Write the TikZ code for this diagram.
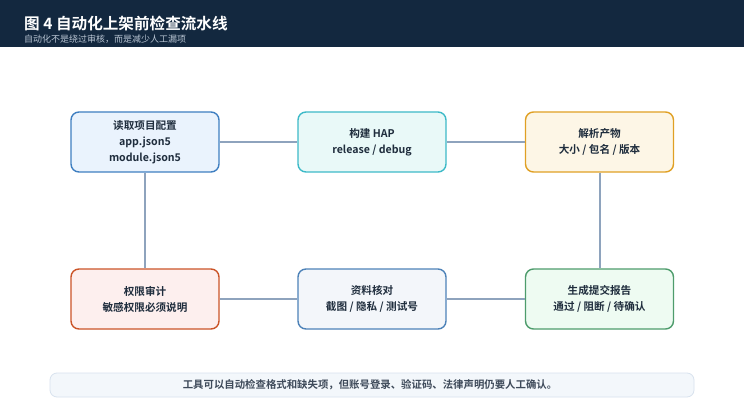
\documentclass[tikz,border=0pt]{standalone}
\usepackage{fontspec}
\setmainfont{Noto Sans CJK SC}
\newfontfamily\cjkb{Noto Sans CJK SC Bold}
\definecolor{hdr}{HTML}{13283F}
\definecolor{sub}{HTML}{B8C4D2}
\definecolor{txt}{HTML}{1F2D3D}
\definecolor{ntxt}{HTML}{3E4A5A}
\definecolor{conn}{HTML}{8EA3BD}
\definecolor{fA}{HTML}{EAF3FD}\definecolor{dA}{HTML}{3F7FC1}
\definecolor{fB}{HTML}{E9F9F8}\definecolor{dB}{HTML}{3DBAC8}
\definecolor{fC}{HTML}{FDF6E6}\definecolor{dC}{HTML}{E0A024}
\definecolor{fD}{HTML}{FDEFEE}\definecolor{dD}{HTML}{CB5428}
\definecolor{fE}{HTML}{F3F6FA}\definecolor{dE}{HTML}{4D82B8}
\definecolor{fF}{HTML}{EEFBF2}\definecolor{dF}{HTML}{4E9C6C}
\definecolor{nf}{HTML}{F3F7FB}\definecolor{nd}{HTML}{D8E2EE}
\tikzset{
  stepbox/.style={rounded corners=8pt, line width=1.4pt, minimum width=148pt, minimum height=60pt,
    align=center, font=\cjkb\fontsize{10.6}{16}\selectfont, text=txt, inner sep=0pt},
  link/.style={draw=conn, line width=2pt}
}
\begin{document}
\begin{tikzpicture}[x=1pt,y=-1pt]
\useasboundingbox (0,0) rectangle (744,414);
\fill[white] (0,0) rectangle (744,414);
\fill[hdr] (0,0) rectangle (744,47);
\node[anchor=base west, inner sep=0pt, text=white, font=\cjkb\fontsize{15.6}{20}\selectfont] (title) at (24,30) {图 4 自动化上架前检查流水线};
\node[anchor=base west, inner sep=0pt, text=sub, font=\fontsize{9}{10}\selectfont] (subtitle) at (24,43) {自动化不是绕过审核，而是减少人工漏项};
\node[stepbox, fill=fA, draw=dA] (a) at (145,142) {读取项目配置\\app.json5\\module.json5};
\node[stepbox, fill=fB, draw=dB] (b) at (372,142) {构建 HAP\\release / debug};
\node[stepbox, fill=fC, draw=dC] (c) at (599.5,142) {解析产物\\大小 / 包名 / 版本};
\node[stepbox, fill=fD, draw=dD] (d) at (145,299) {权限审计\\敏感权限必须说明};
\node[stepbox, fill=fE, draw=dE] (e) at (372,299) {资料核对\\截图 / 隐私 / 测试号};
\node[stepbox, fill=fF, draw=dF] (f) at (599.5,299) {生成提交报告\\通过 / 阻断 / 待确认};
\draw[link] (a.east) -- (b.west);
\draw[link] (b.east) -- (c.west);
\draw[link] (c.south) -- (f.north);
\draw[link] (a.south) -- (d.north);
\draw[link] (d.east) -- (e.west);
\draw[link] (e.east) -- (f.west);
\node[rounded corners=7pt, fill=nf, draw=nd, line width=0.8pt, minimum width=644pt, minimum height=24pt,
  inner sep=0pt] (note) at (372,385) {};
\node[text=ntxt, font=\cjkb\fontsize{10.4}{11}\selectfont, inner sep=0pt] (notetext) at (370,385) {工具可以自动检查格式和缺失项，但账号登录、验证码、法律声明仍要人工确认。};
\end{tikzpicture}
\end{document}
